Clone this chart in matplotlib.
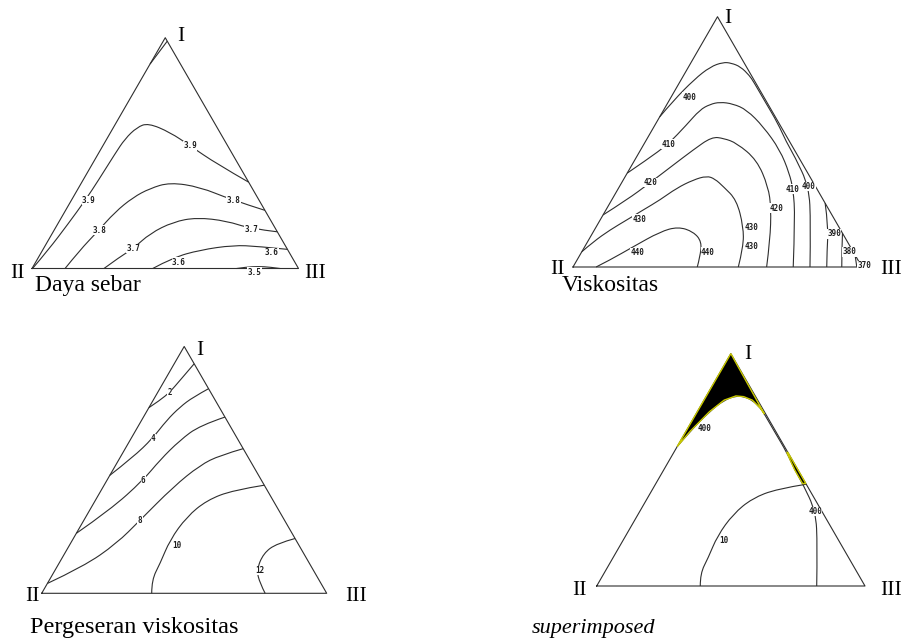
import numpy as np
import matplotlib.pyplot as plt
from matplotlib.patches import Polygon, PathPatch
from matplotlib.path import Path

# every contour point is (fraction of I, fraction of III); II = 1 - I - III

# Daya sebar
daya_39_tip = [(0.886, 0.0), (0.985, 0.015)]
daya_39 = [(0.0, 0.002), (0.080, 0.021), (0.195, 0.039), (0.295, 0.052), (0.381, 0.058),
           (0.497, 0.063), (0.562, 0.068), (0.612, 0.088), (0.630, 0.121), (0.590, 0.223),
           (0.532, 0.327), (0.453, 0.467), (0.374, 0.626)]
daya_38 = [(0.0, 0.124), (0.080, 0.140), (0.157, 0.165), (0.244, 0.189), (0.308, 0.225),
           (0.347, 0.269), (0.373, 0.331), (0.353, 0.454), (0.300, 0.593), (0.252, 0.748)]
daya_37 = [(0.0, 0.270), (0.051, 0.305), (0.087, 0.337), (0.152, 0.367), (0.202, 0.429),
           (0.221, 0.508), (0.206, 0.628), (0.173, 0.732), (0.159, 0.841)]
daya_36 = [(0.0, 0.453), (0.047, 0.505), (0.080, 0.590), (0.101, 0.705), (0.096, 0.800),
           (0.083, 0.917)]
daya_35 = [(0.0, 0.768), (0.006, 0.800), (0.009, 0.845), (0.006, 0.890), (0.0, 0.931)]
daya_labels = [("3.9", 0.532, 0.327), ("3.9", 0.295, 0.066), ("3.8", 0.166, 0.172),
               ("3.8", 0.295, 0.608), ("3.7", 0.087, 0.337), ("3.7", 0.170, 0.738),
               ("3.6", 0.027, 0.538), ("3.6", 0.070, 0.864), ("3.5", -0.016, 0.842)]

# Viskositas
visk_440 = [(0.0, 0.080), (0.028, 0.114), (0.081, 0.168), (0.141, 0.231), (0.161, 0.283),
            (0.141, 0.346), (0.101, 0.395), (0.041, 0.419), (0.0, 0.430)]
visk_430 = [(0.061, 0.0), (0.101, 0.020), (0.148, 0.054), (0.188, 0.092), (0.228, 0.129),
            (0.268, 0.167), (0.315, 0.201), (0.348, 0.242), (0.364, 0.281), (0.352, 0.315),
            (0.321, 0.360), (0.268, 0.432), (0.161, 0.509), (0.081, 0.549), (0.0, 0.572)]
visk_420 = [(0.208, 0.0), (0.268, 0.052), (0.336, 0.098), (0.404, 0.141), (0.468, 0.182),
            (0.520, 0.220), (0.514, 0.265), (0.495, 0.319), (0.428, 0.422), (0.321, 0.515),
            (0.235, 0.568), (0.108, 0.628), (0.0, 0.670)]
visk_410 = [(0.375, 0.0), (0.428, 0.041), (0.491, 0.084), (0.568, 0.109), (0.628, 0.125),
            (0.650, 0.149), (0.659, 0.179), (0.652, 0.228), (0.628, 0.287), (0.561, 0.378),
            (0.468, 0.482), (0.375, 0.561), (0.308, 0.608), (0.201, 0.668), (0.0, 0.762)]
visk_400 = [(0.600, 0.0), (0.665, 0.015), (0.750, 0.045), (0.800, 0.075), (0.818, 0.110),
            (0.815, 0.140), (0.800, 0.180), (0.765, 0.228), (0.740, 0.255), (0.660, 0.335),
            (0.575, 0.421), (0.500, 0.488), (0.441, 0.547), (0.321, 0.656), (0.175, 0.735),
            (0.0, 0.820)]
visk_390 = [(0.255, 0.745), (0.161, 0.803), (0.068, 0.845), (0.0, 0.878)]
visk_380 = [(0.135, 0.865), (0.068, 0.896), (0.0, 0.930)]
visk_370 = [(0.048, 0.952), (0.0, 0.982)]
visk_labels = [("400", 0.679, 0.062), ("410", 0.491, 0.084), ("420", 0.337, 0.098),
               ("430", 0.191, 0.134), ("440", 0.057, 0.195), ("440", 0.059, 0.437),
               ("430", 0.157, 0.540), ("430", 0.081, 0.578), ("420", 0.235, 0.585),
               ("410", 0.311, 0.603), ("400", 0.321, 0.656), ("390", 0.132, 0.838),
               ("380", 0.061, 0.926), ("370", 0.004, 1.005)]

# Pergeseran viskositas
geser_2 = [(0.930, 0.070), (0.863, 0.054), (0.815, 0.042), (0.782, 0.024), (0.752, 0.0)]
geser_4 = [(0.829, 0.171), (0.795, 0.134), (0.755, 0.108), (0.701, 0.088), (0.627, 0.075),
           (0.552, 0.045), (0.478, 0.0)]
geser_6 = [(0.714, 0.286), (0.680, 0.215), (0.620, 0.175), (0.540, 0.145), (0.459, 0.127),
           (0.338, 0.071), (0.243, 0.0)]
geser_8 = [(0.586, 0.414), (0.559, 0.346), (0.519, 0.296), (0.431, 0.246), (0.296, 0.197),
           (0.202, 0.162), (0.108, 0.092), (0.040, 0.0)]
geser_10 = [(0.438, 0.562), (0.418, 0.463), (0.377, 0.391), (0.310, 0.354), (0.216, 0.342),
            (0.121, 0.355), (0.054, 0.359), (0.0, 0.386)]
geser_12 = [(0.222, 0.778), (0.202, 0.724), (0.162, 0.697), (0.094, 0.707), (0.040, 0.746),
            (0.0, 0.784)]
geser_labels = [("2", 0.815, 0.042), ("4", 0.627, 0.078), ("6", 0.459, 0.127),
                ("8", 0.296, 0.197), ("10", 0.195, 0.376), ("12", 0.092, 0.720)]

super_labels = [("400", 0.677, 0.065), ("400", 0.320, 0.654), ("10", 0.195, 0.378)]

captions = ["Daya sebar", "Viskositas", "Pergeseran viskositas", "superimposed"]

H = np.sqrt(3) / 2
LINE = "#2e2e2e"
SERIF = "Liberation Serif"


def xy(points):
    p = np.asarray(points, dtype=float)
    return p[:, 1] + p[:, 0] / 2, p[:, 0] * H


def smooth(points):
    # quadratic bezier through the read points, so the lines are not jagged
    x, y = xy(points)
    p = np.column_stack([x, y])
    if len(p) < 3:
        return Path(p)
    verts, codes = [p[0]], [Path.MOVETO]
    for i in range(1, len(p) - 1):
        end = p[-1] if i == len(p) - 2 else (p[i] + p[i + 1]) / 2
        verts += [p[i], end]
        codes += [Path.CURVE3, Path.CURVE3]
    return Path(verts, codes)


fig = plt.figure(figsize=(9.02, 6.41), dpi=100)


def panel(x0, yb, w, off_i, off_ii, off_iii):
    # x0, yb: pixel position of corner II, w: base length in pixels
    ax = fig.add_axes([(x0 - 0.25 * w) / 902, (641 - yb - 0.25 * w) / 641,
                       1.5 * w / 902, 1.5 * w / 641])
    ax.set_xlim(-0.25, 1.25)
    ax.set_ylim(-0.25, 1.25)
    ax.axis("off")
    ax.plot([0, 1, 0.5, 0], [0, 0, H, 0], color=LINE, lw=0.8)
    kw = dict(textcoords="offset pixels", va="baseline", fontsize=15.5, family=SERIF)
    ax.annotate("I", (0.5, H), xytext=off_i, ha="left", **kw)
    ax.annotate("II", (0, 0), xytext=off_ii, ha="right", **kw)
    ax.annotate("III", (1, 0), xytext=off_iii, ha="left", **kw)
    return ax


def contours(ax, lines, labels):
    for ln in lines:
        ax.add_patch(PathPatch(smooth(ln), fill=False, edgecolor=LINE, lw=0.8))
    for t, a, c in labels:
        ax.text(c + a / 2, a * H, t, ha="center", va="center", fontsize=5.5,
                family="DejaVu Sans Mono", weight="bold", color="#1e1e1e",
                bbox=dict(facecolor="white", edgecolor="none", pad=0.2))


ax1 = panel(32, 268.5, 266.5, (12, -3), (-7, -9), (6, -9))
contours(ax1, [daya_39_tip, daya_39, daya_38, daya_37, daya_36, daya_35], daya_labels)

ax2 = panel(573, 267, 289, (7, -6), (-8, -7), (18, -7))
contours(ax2, [visk_440, visk_430, visk_420, visk_410, visk_400, visk_390, visk_380, visk_370],
         visk_labels)

ax3 = panel(41.7, 593.3, 285, (12, -9), (-2, -8), (18, -8))
contours(ax3, [geser_2, geser_4, geser_6, geser_8, geser_10, geser_12], geser_labels)

ax4 = panel(596.7, 586, 268.3, (13, -5), (-10, -9), (15, -9))
contours(ax4, [visk_400, geser_10], super_labels)

# feasible areas: below 400 viscosity and above the shift contour 10
v = np.asarray(visk_400)
gap = 1 - v[:, 0] - v[:, 1]
touch = np.where(gap < 0.006)[0]
tip = np.vstack([v[:touch[0] + 1], [[1.0, 0.0]]])
rest = v[touch[-1]:]
rest = rest[rest[:, 0] >= geser_10[0][0]]
edge = np.column_stack([rest[::-1, 0], 1 - rest[::-1, 0]])
sliver = np.vstack([rest, edge])
for reg in (tip, sliver):
    ax4.add_patch(Polygon(np.column_stack(xy(reg)), closed=True, facecolor="black",
                          edgecolor="#c8c800", lw=1.0, zorder=3))

fig.text(35 / 902, 1 - 291 / 641, captions[0], fontsize=17, family=SERIF, va="baseline")
fig.text(562 / 902, 1 - 291 / 641, captions[1], fontsize=17, family=SERIF, va="baseline")
fig.text(30 / 902, 1 - 633 / 641, captions[2], fontsize=17.5, family=SERIF, va="baseline")
fig.text(532 / 902, 1 - 633 / 641, captions[3], fontsize=16, family=SERIF, va="baseline",
         style="italic")

fig.savefig("out.png", dpi=100)
